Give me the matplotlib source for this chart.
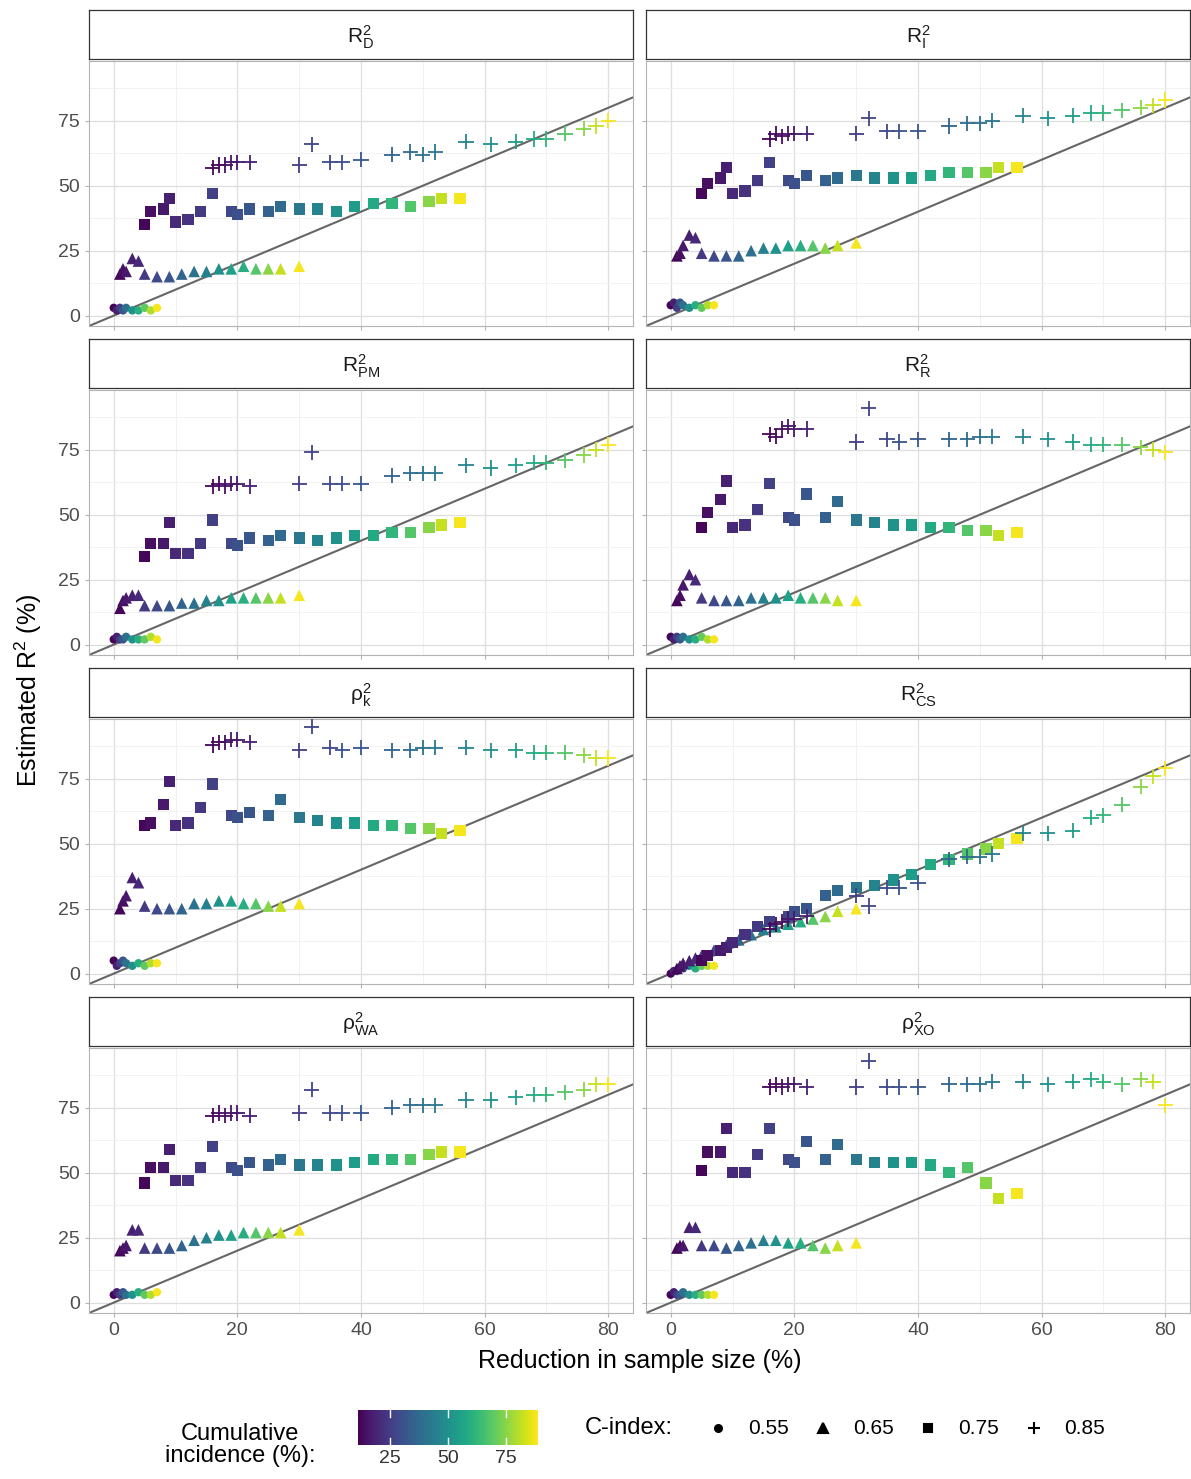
import matplotlib
matplotlib.use("Agg")
import matplotlib.pyplot as plt
import numpy as np
from matplotlib.cm import ScalarMappable
from matplotlib.colors import Normalize

plt.rcParams['font.family'] = ['Liberation Sans', 'DejaVu Sans']
plt.rcParams['mathtext.fontset'] = 'custom'
plt.rcParams['mathtext.rm'] = 'Liberation Sans'
plt.rcParams['mathtext.it'] = 'Liberation Sans:italic'

plus_x = [16,17,18,19,20,22, 30,32,35,37,40, 45,48,50,52, 57,61,65,68,70,73,76,78,80]
plus_inc = [12,13,14,15,16,18, 25,27,28,30,32, 36,38,40,42, 46,50,54,58,62,68,75,82,88]
sq_x = [5,6,8,9,10,12,14,16,19,20,22,25,27,30,33,36,39,42,45,48,51,53,56]
sq_inc = [12,14,16,18,20,22,24,26,28,30,32,35,38,42,46,50,54,58,62,68,75,82,88]
tri_x = [1,1.5,2,3,4,5,7,9,11,13,15,17,19,21,23,25,27,30]
tri_inc = [12,14,16,18,20,24,28,32,36,40,45,50,55,60,68,75,82,88]
circ_x = [0,0.5,1,1.5,2,3,4,5,6,7]
circ_inc = [12,18,25,32,40,50,60,70,80,88]

panel_labels = [r"$\mathregular{R^2_D}$", r"$\mathregular{R^2_I}$", r"$\mathregular{R^2_{PM}}$", r"$\mathregular{R^2_R}$",
                r"$\mathregular{\rho^2_k}$", r"$\mathregular{R^2_{CS}}$", r"$\mathregular{\rho^2_{WA}}$", r"$\mathregular{\rho^2_{XO}}$"]

D_plus = [57,58,58,59,59,59, 58,66,59,59,60, 62,63,62,63, 67,66,67,68,68,70,72,73,75]
D_sq = [35,40,41,45,36,37,40,47,40,39,41,40,42,41,41,40,42,43,43,42,44,45,45]
D_tri = [16,18,17,22,21,16,15,15,16,17,17,18,18,19,18,18,18,19]
D_circ = [3,2,3,2,3,2,2,3,2,3]

I_plus = [68,70,69,70,70,70, 70,76,71,71,71, 73,74,74,75, 77,76,77,78,78,79,80,81,83]
I_sq = [47,51,53,57,47,48,52,59,52,51,54,52,53,54,53,53,53,54,55,55,55,57,57]
I_tri = [23,24,27,31,30,24,23,23,23,25,26,26,27,27,27,26,27,28]
I_circ = [4,5,3,5,4,3,4,3,4,4]

PM_plus = [61,62,61,62,62,61, 62,74,62,62,62, 65,66,66,66, 69,68,69,70,70,71,73,75,77]
PM_sq = [34,39,39,47,35,35,39,48,39,38,41,40,42,41,40,41,42,42,43,43,45,46,47]
PM_tri = [14,17,18,19,19,15,15,15,16,16,17,17,18,18,18,18,18,19]
PM_circ = [2,3,2,2,3,2,2,2,3,2]

R_plus = [81,80,83,84,83,83, 78,91,79,78,79, 79,79,80,80, 80,79,78,77,77,77,76,75,74]
R_sq = [45,51,56,63,45,46,52,62,49,48,58,49,55,48,47,46,46,45,45,44,44,42,43]
R_tri = [17,19,23,27,25,18,17,17,17,18,18,18,19,18,18,18,17,17]
R_circ = [3,2,3,2,3,2,2,3,2,2]

K_plus = [88,89,89,90,90,89, 86,95,87,86,87, 86,86,87,87, 87,86,86,85,85,85,84,83,83]
K_sq = [57,58,65,74,57,58,64,73,61,60,62,61,67,60,59,58,58,57,57,56,56,54,55]
K_tri = [25,28,30,37,35,26,25,25,25,27,27,28,28,27,27,26,26,27]
K_circ = [5,3,4,5,4,3,4,3,4,4]

CS_plus = [17,19,20,21,21,22, 30,26,33,33,35, 44,45,45,46, 54,54,55,60,61,65,72,76,79]
CS_sq = [5,7,9,10,12,15,18,20,22,24,25,30,32,33,34,36,38,42,44,46,48,50,52]
CS_tri = [2,3,4,5,6,7,9,11,13,15,17,18,19,20,21,22,24,25]
CS_circ = [0,1,1,2,2,3,2,3,3,3]

WA_plus = [72,73,72,73,73,72, 73,82,73,73,73, 75,76,76,76, 78,78,79,80,80,81,82,84,84]
WA_sq = [46,52,52,59,47,47,52,60,52,51,54,53,55,53,53,53,54,55,55,55,57,58,58]
WA_tri = [20,21,22,28,28,21,21,21,22,24,25,26,26,27,27,27,27,28]
WA_circ = [3,4,3,4,3,3,4,3,3,4]

XO_plus = [83,84,83,84,84,83, 83,93,83,83,83, 84,84,84,85, 85,84,85,86,85,84,86,85,76]
XO_sq = [51,58,58,67,50,50,57,67,55,54,62,55,61,55,54,54,54,53,50,52,46,40,42]
XO_tri = [21,22,22,29,29,22,22,21,22,23,24,24,23,23,22,21,22,23]
XO_circ = [3,4,3,3,4,3,3,3,3,3]

panel_data = [(D_circ, D_tri, D_sq, D_plus), (I_circ, I_tri, I_sq, I_plus),
              (PM_circ, PM_tri, PM_sq, PM_plus), (R_circ, R_tri, R_sq, R_plus),
              (K_circ, K_tri, K_sq, K_plus), (CS_circ, CS_tri, CS_sq, CS_plus),
              (WA_circ, WA_tri, WA_sq, WA_plus), (XO_circ, XO_tri, XO_sq, XO_plus)]

W, H = 1191, 1479
fig = plt.figure(figsize=(W/100, H/100), dpi=100)
cmap = plt.get_cmap("viridis")
norm = Normalize(11, 89)

def ax_px(x0, y0, x1, y1):
    return fig.add_axes([x0/W, 1-y1/H, (x1-x0)/W, (y1-y0)/H])

cols = [(89, 633), (646, 1190)]
tops = [10, 339, 668, 997]
groups = [(circ_x, circ_inc, 'o', 36), (tri_x, tri_inc, '^', 70), (sq_x, sq_inc, 's', 65), (plus_x, plus_inc, '+', 120)]
for i, (lab, ys) in enumerate(zip(panel_labels, panel_data)):
    r, c = divmod(i, 2)
    x0, x1 = cols[c]
    t = tops[r]
    sax = ax_px(x0, t, x1, t+49)
    sax.set_xticks([]); sax.set_yticks([])
    for s in sax.spines.values():
        s.set_color("#333333"); s.set_linewidth(0.9)
    sax.text(0.5, 0.45, lab, ha='center', va='center', fontsize=15, color='#1a1a1a', transform=sax.transAxes)
    ax = ax_px(x0, t+51, x1, t+316)
    ax.set_xlim(-4, 84); ax.set_ylim(-4, 98)
    ax.set_xticks([0, 20, 40, 60, 80]); ax.set_yticks([0, 25, 50, 75])
    ax.set_xticks([10, 30, 50, 70], minor=True); ax.set_yticks([12.5, 37.5, 62.5, 87.5], minor=True)
    ax.grid(True, which='major', color='#dedede', lw=0.9)
    ax.grid(True, which='minor', color='#f0f0f0', lw=0.6)
    ax.set_axisbelow(True)
    for s in ax.spines.values():
        s.set_color("#b3b3b3")
    ax.tick_params(which='both', length=0, labelsize=14, colors='#4d4d4d')
    ax.tick_params(which='major', length=3, color='#b3b3b3')
    if r < 3:
        ax.set_xticklabels([])
    if c == 1:
        ax.set_yticklabels([])
    ax.plot([-4, 84], [-4, 84], color='#666666', lw=1.5, zorder=1)
    for (gx, ginc, m, s), gy in zip(groups, ys):
        if m == '+':
            ax.scatter(gx, gy, c=ginc, cmap=cmap, norm=norm, marker=m, s=s, linewidths=1.3, zorder=3)
        else:
            ax.scatter(gx, gy, c=ginc, cmap=cmap, norm=norm, marker=m, s=s, linewidths=0, zorder=3)

fig.text(28/W, 1-690/H, r"Estimated R$^2$ (%)", rotation=90, ha='center', va='center', fontsize=18)
fig.text(640/W, 1-1361/H, "Reduction in sample size (%)", ha='center', va='center', fontsize=18)

fig.text(240/W, 1-1445/H, "Cumulative\nincidence (%):", ha='center', va='center', fontsize=17, linespacing=1.05)
cax = ax_px(358, 1410, 538, 1445)
cb = fig.colorbar(ScalarMappable(norm=norm, cmap=cmap), cax=cax, orientation='horizontal')
cb.set_ticks([25, 50, 75])
cb.outline.set_visible(False)
cax.tick_params(labelsize=14, colors='#333333', length=0)
for v in [25, 50, 75]:
    cax.axvline(v, ymin=0, ymax=0.2, color='white', lw=1)
    cax.axvline(v, ymin=0.8, ymax=1, color='white', lw=1)

fig.text(585/W, 1-1428/H, "C-index:", ha='left', va='center', fontsize=17)
lx = [718, 823, 928, 1034]
labs = ["0.55", "0.65", "0.75", "0.85"]
marks = [('o', 5), ('^', 7), ('s', 6), ('+', 9)]
for xx, lb, (m, ms) in zip(lx, labs, marks):
    fig.lines.append(plt.Line2D([xx/W], [1-1428/H], marker=m, ms=ms, color='black', mew=1.5, transform=fig.transFigure))
    fig.text((xx+30)/W, 1-1428/H, lb, ha='left', va='center', fontsize=15)

fig.savefig("out.png", dpi=100)
